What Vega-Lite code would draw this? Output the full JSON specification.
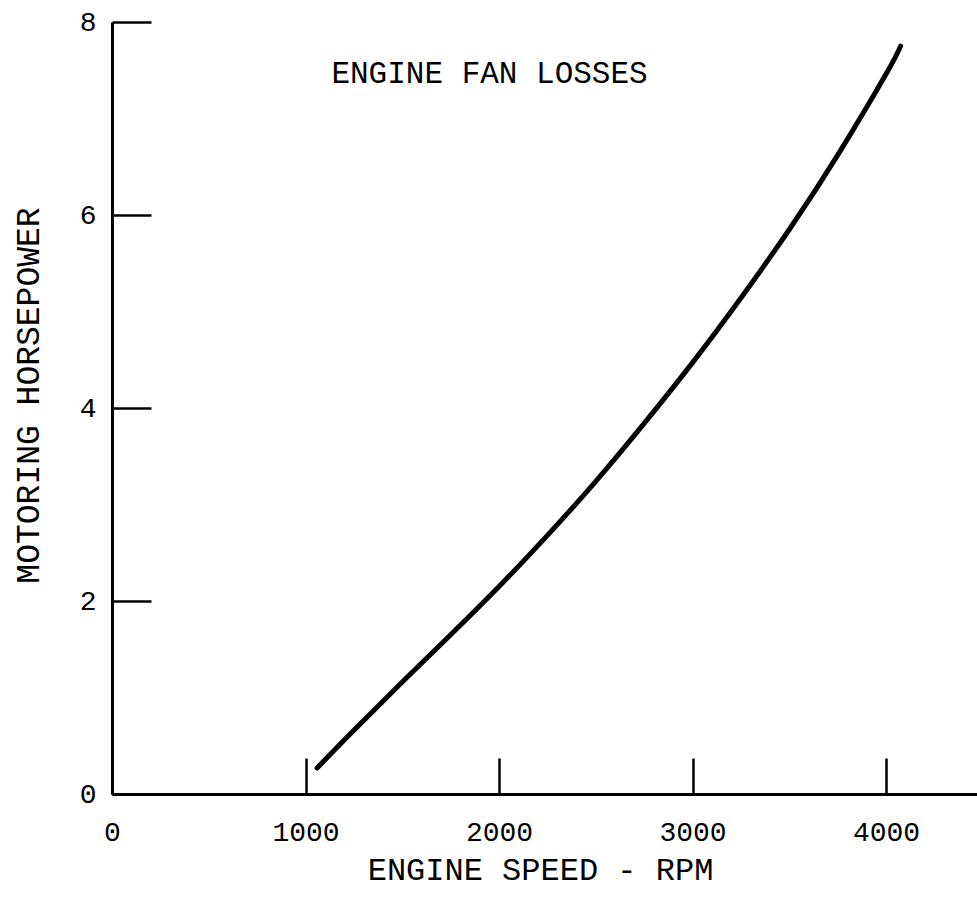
{
  "$schema": "https://vega.github.io/schema/vega-lite/v6.json",
  "width": 865,
  "height": 772,
  "autosize": {"type": "none"},
  "padding": {"left": 112, "top": 22, "right": 0, "bottom": 117},
  "background": "white",
  "config": {
    "view": {"stroke": null},
    "font": "Liberation Mono",
    "axis": {
      "domainColor": "black",
      "domainWidth": 3,
      "tickColor": "black",
      "tickWidth": 2.5,
      "grid": false,
      "labelFont": "Liberation Mono",
      "labelColor": "black",
      "labelFontSize": 28,
      "titleFont": "Liberation Mono",
      "titleColor": "black",
      "titleFontSize": 32,
      "titleFontWeight": "normal"
    }
  },
  "datasets": {
    "curve": [
      {"rpm": 1060, "hp": 0.27},
      {"rpm": 1250, "hp": 0.66},
      {"rpm": 1500, "hp": 1.16},
      {"rpm": 1750, "hp": 1.65},
      {"rpm": 2000, "hp": 2.15},
      {"rpm": 2250, "hp": 2.68},
      {"rpm": 2500, "hp": 3.24},
      {"rpm": 2750, "hp": 3.84},
      {"rpm": 3000, "hp": 4.47},
      {"rpm": 3250, "hp": 5.14},
      {"rpm": 3500, "hp": 5.85},
      {"rpm": 3750, "hp": 6.62},
      {"rpm": 4000, "hp": 7.46},
      {"rpm": 4075, "hp": 7.75}
    ],
    "label": [
      {"rpm": 1951, "hp": 7.46, "text": "ENGINE FAN LOSSES"}
    ]
  },
  "encoding": {
    "x": {
      "field": "rpm", "type": "quantitative",
      "scale": {"domain": [0, 4470], "nice": false, "zero": false},
      "axis": {
        "values": [0, 1000, 2000, 3000, 4000],
        "format": "d",
        "tickSize": -36,
        "labelPadding": 60,
        "title": "ENGINE SPEED - RPM",
        "titlePadding": 8,
        "titleX": 428,
        "titleAnchor": "start",
        "titleAlign": "center",
        "labelFlush": false
      }
    },
    "y": {
      "field": "hp", "type": "quantitative",
      "scale": {"domain": [0, 8], "nice": false},
      "axis": {
        "values": [0, 2, 4, 6, 8],
        "format": "d",
        "tickSize": -39,
        "labelPadding": 55,
        "title": "MOTORING HORSEPOWER",
        "titleFontSize": 33,
        "titlePadding": 34,
        "titleY": 373,
        "titleAnchor": "start",
        "titleAlign": "center",
        "labelFlush": false
      }
    }
  },
  "layer": [
    {
      "data": {"name": "curve"},
      "mark": {"type": "line", "color": "black", "strokeWidth": 5, "strokeCap": "round", "interpolate": "natural"}
    },
    {
      "data": {"name": "label"},
      "mark": {"type": "text", "font": "Liberation Mono", "fontSize": 31, "color": "black", "baseline": "middle", "align": "center"},
      "encoding": {
        "text": {"field": "text"}
      }
    }
  ]
}
